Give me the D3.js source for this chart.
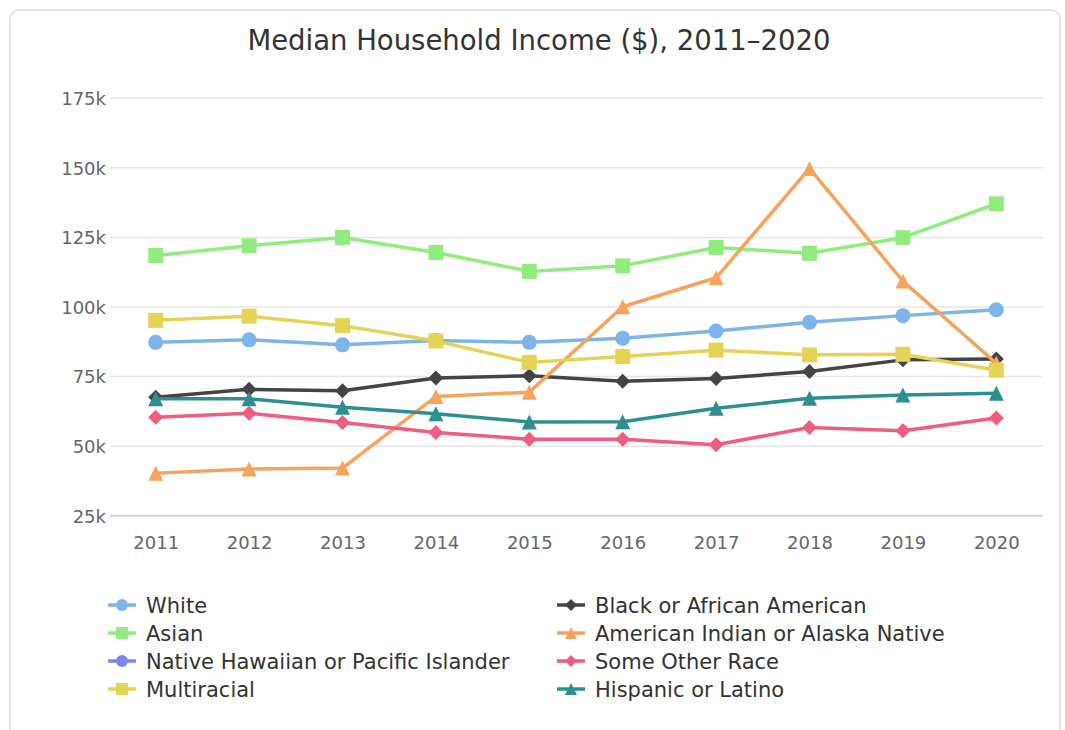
<!DOCTYPE html>
<html>
<head>
<meta charset="utf-8">
<script src="https://cdn.jsdelivr.net/npm/d3@7"></script>
<style>
  body { margin: 0; background: #fff; }
  svg { display: block; font-family: "DejaVu Sans", sans-serif; }
</style>
</head>
<body>
<svg id="chart" width="1065" height="730"></svg>
<script>
// data (in dollars)
var years = ["2011", "2012", "2013", "2014", "2015", "2016", "2017", "2018", "2019", "2020"]
var yTicks = [25000, 50000, 75000, 100000, 125000, 150000, 175000]

var white = [87300, 88200, 86400, 88000, 87300, 88800, 91400, 94500, 96900, 99000]
var black = [67600, 70400, 69900, 74500, 75300, 73300, 74300, 76800, 81000, 81300]
var asian = [118500, 122000, 125000, 119600, 112800, 114800, 121400, 119300, 124900, 137100]
var amIndian = [40300, 41800, 42100, 67800, 69400, 100100, 110500, 149800, 109300, 79800]
var hawaiian = [null, null, null, null, null, null, null, null, null, null]
var otherRace = [60400, 61800, 58500, 54900, 52500, 52500, 50500, 56700, 55500, 60100]
var multiracial = [95200, 96700, 93300, 87800, 80100, 82200, 84500, 82800, 83000, 77300]
var hispanic = [67000, 67000, 64000, 61600, 58700, 58800, 63600, 67200, 68400, 69000]

var seriesNames = ["White", "Black or African American", "Asian", "American Indian or Alaska Native",
    "Native Hawaiian or Pacific Islander", "Some Other Race", "Multiracial", "Hispanic or Latino"]
var seriesValues = [white, black, asian, amIndian, hawaiian, otherRace, multiracial, hispanic]
var seriesColors = ["#7cb5ec", "#434348", "#90ed7d", "#f7a35c", "#8085e9", "#f15c80", "#e4d354", "#2b908f"]
var seriesMarkers = ["circle", "diamond", "square", "triangle", "circle", "diamond", "square", "triangle"]

var svg = d3.select("#chart")

// card border
svg.append("rect")
    .attr("x", 10).attr("y", 10)
    .attr("width", 1050).attr("height", 760)
    .attr("rx", 9)
    .attr("fill", "#fff")
    .attr("stroke", "#e3e3e3")
    .attr("stroke-width", 2)

svg.append("text")
    .attr("x", 539)
    .attr("y", 50)
    .attr("text-anchor", "middle")
    .attr("fill", "#333")
    .style("font-size", "27.5px")
    .text("Median Household Income ($), 2011\u20132020")

var xScale = d3.scalePoint()
    .domain(years)
    .range([109, 1043])
    .padding(0.5)

var yScale = d3.scaleLinear()
    .domain([25000, 175000])
    .range([515.7, 98.3])

// gridlines
svg.append("g")
    .selectAll("line")
    .data(yTicks.slice(1))
    .enter()
    .append("line")
    .attr("x1", 110).attr("x2", 1043)
    .attr("y1", d => yScale(d)).attr("y2", d => yScale(d))
    .attr("stroke", "#e6e6e6")
    .attr("stroke-width", 1.5)

var yAxis = svg.append("g")
    .attr("transform", "translate(106,0)")
    .call(d3.axisLeft(yScale).tickValues(yTicks).tickSize(0).tickPadding(0)
        .tickFormat(d => (d / 1000) + "k"))
yAxis.select(".domain").remove()
yAxis.selectAll("text")
    .attr("fill", "#666")
    .attr("dy", "0.35em")
    .style("font-size", "18px")
    .style("font-family", "DejaVu Sans")

var xAxis = svg.append("g")
    .attr("transform", "translate(0," + yScale(25000) + ")")
    .call(d3.axisBottom(xScale).tickSize(0).tickPadding(21))
xAxis.select(".domain")
    .attr("d", "M110,0H1043")
    .attr("stroke", "#ccd6eb")
    .attr("stroke-width", 2)
xAxis.selectAll("text")
    .attr("fill", "#666")
    .style("font-size", "18px")
    .style("font-family", "DejaVu Sans")

function markerPath(type, r) {
    var p = d3.path()
    if (type == "circle") {
        p.arc(0, 0, r, 0, 2 * Math.PI)
    } else if (type == "square") {
        p.rect(-r, -r, 2 * r, 2 * r)
    } else if (type == "diamond") {
        p.moveTo(0, -r); p.lineTo(r, 0); p.lineTo(0, r); p.lineTo(-r, 0); p.closePath()
    } else {
        p.moveTo(0, -r); p.lineTo(r, r); p.lineTo(-r, r); p.closePath()
    }
    return p.toString()
}

var line = d3.line()
    .defined(d => d != null)
    .x((d, i) => xScale(years[i]))
    .y(d => yScale(d))

var plot = svg.append("g")

seriesValues.forEach(function (vals, s) {
    var g = plot.append("g")
    g.append("path")
        .datum(vals)
        .attr("d", line)
        .attr("fill", "none")
        .attr("stroke", seriesColors[s])
        .attr("stroke-width", 3.5)
        .attr("stroke-linejoin", "round")
    g.selectAll(".dot")
        .data(vals.map((v, i) => ({ v: v, year: years[i] })).filter(d => d.v != null))
        .enter()
        .append("path")
        .attr("class", "dot")
        .attr("d", markerPath(seriesMarkers[s], 7.5))
        .attr("transform", d => "translate(" + xScale(d.year) + "," + yScale(d.v) + ")")
        .attr("fill", seriesColors[s])
})

// legend, two columns, filled row by row
var legend = svg.append("g")
var legendItems = legend.selectAll(".item")
    .data(seriesNames)
    .enter()
    .append("g")
    .attr("class", "item")
    .attr("transform", (d, i) => "translate(" + (i % 2 == 0 ? 108 : 557) + "," + (605 + Math.floor(i / 2) * 28) + ")")

legendItems.append("line")
    .attr("x1", 0).attr("x2", 28)
    .attr("stroke", (d, i) => seriesColors[i])
    .attr("stroke-width", 3.5)
legendItems.append("path")
    .attr("d", (d, i) => markerPath(seriesMarkers[i], 6))
    .attr("transform", "translate(14,0)")
    .attr("fill", (d, i) => seriesColors[i])
legendItems.append("text")
    .attr("x", 38)
    .attr("y", 7.5)
    .attr("fill", "#333")
    .style("font-size", "21px")
    .text(d => d)
</script>
</body>
</html>
